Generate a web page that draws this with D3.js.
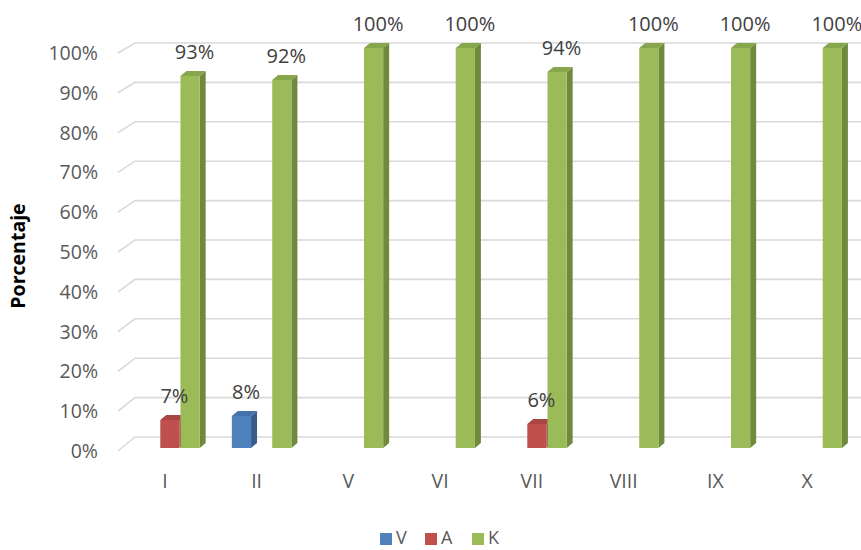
<!DOCTYPE html>
<html>
<head>
<meta charset="utf-8">
<script src="https://cdn.jsdelivr.net/npm/d3@7/dist/d3.min.js"></script>
<style>
  html, body { margin: 0; padding: 0; background: #fff; }
  svg { display: block; }
  text { font-family: "Open Sans", "Liberation Sans", Arial, sans-serif; }
</style>
</head>
<body>
<svg id="chart" width="861" height="550"></svg>
<script>
const categories = ["I", "II", "V", "VI", "VII", "VIII", "IX", "X"];
const seriesNames = ["V", "A", "K"];
const valuesV = [0, 8, 0, 0, 0, 0, 0, 0];
const valuesA = [7, 0, 0, 0, 6, 0, 0, 0];
const valuesK = [93, 92, 100, 100, 94, 100, 100, 100];
const yTicks = [0, 10, 20, 30, 40, 50, 60, 70, 80, 90, 100];

const seriesValues = [valuesV, valuesA, valuesK];
const colors = {
  V: { front: "#4f81bd", side: "#385d8a", top: "#4373ab" },
  A: { front: "#c0504d", side: "#8c3836", top: "#a94643" },
  K: { front: "#9bbb59", side: "#6f8a3d", top: "#87a64c" }
};

const svg = d3.select("#chart");

const x = d3.scaleBand().domain(categories).range([119, 853]).padding(0);
const xs = d3.scaleBand().domain(seriesNames)
  .range([x.bandwidth() * 0.23, x.bandwidth() * 0.89]).padding(0);
const yBar = d3.scaleLinear().domain([0, 100]).range([448, 48]);
const yBack = d3.scaleLinear().domain([0, 100]).range([437, 43]);
const yFront = d3.scaleLinear().domain([0, 100]).range([451, 53]);

// gridlines (floor edge slant + back wall horizontal)
const grid = svg.append("g");
yTicks.forEach(t => {
  grid.append("path")
    .attr("d", `M118,${yFront(t)} L135,${yBack(t)} L861,${yBack(t)}`)
    .attr("fill", "none")
    .attr("stroke", "#d9d9d9")
    .attr("stroke-width", 1.6);
});

// y tick labels
svg.append("g").selectAll("text").data(yTicks).join("text")
  .attr("x", 98)
  .attr("y", d => yFront(d))
  .attr("dy", "0.36em")
  .attr("text-anchor", "end")
  .attr("font-size", 19.5)
  .attr("fill", "#595959")
  .text(d => d + "%");

// y axis title
svg.append("text")
  .attr("transform", "translate(25,256) rotate(-90)")
  .attr("text-anchor", "middle")
  .attr("font-size", 19.5)
  .attr("font-weight", "bold")
  .attr("fill", "#000")
  .text("Porcentaje");

// category labels
svg.append("g").selectAll("text").data(categories).join("text")
  .attr("x", d => x(d) + x.bandwidth() / 2)
  .attr("y", 481)
  .attr("dy", "0.36em")
  .attr("text-anchor", "middle")
  .attr("font-size", 19.5)
  .attr("fill", "#595959")
  .text(d => d);

// bars (3D)
const dx = 6, dy = 5;
const bars = [];
categories.forEach((c, i) => {
  seriesNames.forEach((s, j) => {
    const v = seriesValues[j][i];
    if (v > 0) bars.push({ c, s, v });
  });
});

const barG = svg.append("g");
bars.forEach(b => {
  const x0 = x(b.c) + xs(b.s);
  const w = xs.bandwidth() - 1;
  const yt = yBar(b.v);
  const yb = yBar(0);
  const col = colors[b.s];
  const g = barG.append("g");
  g.append("path")
    .attr("d", `M${x0 + w},${yt} L${x0 + w + dx},${yt - dy} L${x0 + w + dx},${yb - dy} L${x0 + w},${yb} Z`)
    .attr("fill", col.side);
  g.append("path")
    .attr("d", `M${x0},${yt} L${x0 + dx},${yt - dy} L${x0 + w + dx},${yt - dy} L${x0 + w},${yt} Z`)
    .attr("fill", col.top);
  g.append("rect")
    .attr("x", x0).attr("y", yt)
    .attr("width", w).attr("height", yb - yt)
    .attr("fill", col.front);
});

// data labels
svg.append("g").selectAll("text").data(bars).join("text")
  .attr("x", d => x(d.c) + xs(d.s) + xs.bandwidth() / 2 + 4)
  .attr("y", d => yBar(d.v) - 24)
  .attr("dy", "0.36em")
  .attr("text-anchor", "middle")
  .attr("font-size", 20)
  .attr("fill", "#404040")
  .text(d => d.v + "%");

// legend
const legendX = [380, 425, 472];
const leg = svg.append("g");
seriesNames.forEach((s, j) => {
  leg.append("rect")
    .attr("x", legendX[j]).attr("y", 533)
    .attr("width", 12).attr("height", 12)
    .attr("fill", colors[s].front);
  leg.append("text")
    .attr("x", legendX[j] + 16).attr("y", 538)
    .attr("dy", "0.36em")
    .attr("font-size", 18)
    .attr("fill", "#595959")
    .text(s);
});
</script>
</body>
</html>
